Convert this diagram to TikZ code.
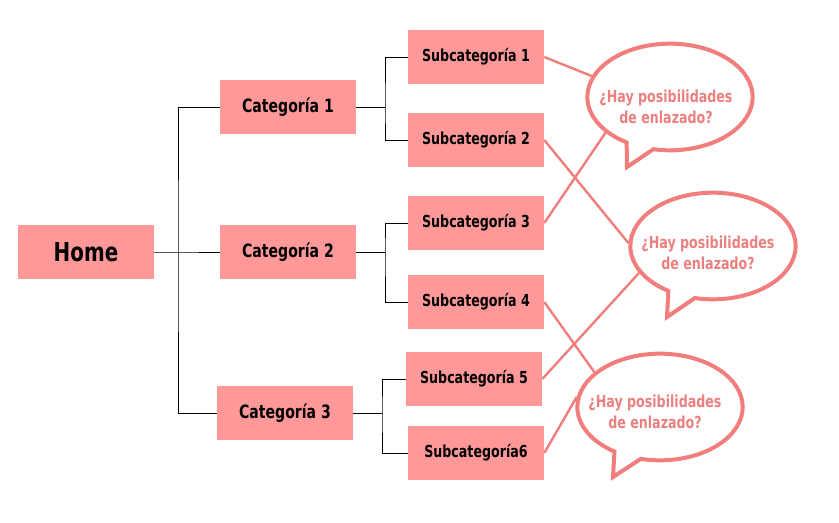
\documentclass[tikz,border=0pt]{standalone}
\usepackage{fontspec}
\setmainfont{DejaVu Sans Condensed}[FakeStretch=0.85]
\usetikzlibrary{shapes.callouts}
\definecolor{boxpink}{HTML}{FF9999}
\definecolor{linepink}{HTML}{F27D7D}
\definecolor{askpink}{HTML}{EC8080}

\begin{document}
\begin{tikzpicture}[x=0.75pt,y=-0.75pt,
	catbox/.style={fill=boxpink, minimum width=102pt, minimum height=40pt, inner sep=0pt, font=\bfseries\fontsize{12.4}{14}\selectfont},
	ask/.style={ellipse callout, draw=linepink, line width=3pt, fill=white, minimum width=124pt, minimum height=80pt, callout pointer arc=20},
	asktext/.style={text=askpink, align=center, inner sep=0pt, font=\bfseries\fontsize{12.4}{16}\selectfont},
	tree/.style={draw=black, line width=0.75pt},
	link/.style={draw=linepink, line width=1.8pt}]
	\useasboundingbox (0,0) rectangle (839,522);
	% tree of pages
	\node[catbox, font=\bfseries\fontsize{19.5}{21}\selectfont] (home) at (86,252) {Home};
	\node[catbox, font=\bfseries\fontsize{13.8}{16}\selectfont] (cat1) at (288,107) {Categoría 1};
	\node[catbox, font=\bfseries\fontsize{13.8}{16}\selectfont] (cat2) at (288,252) {Categoría 2};
	\node[catbox, font=\bfseries\fontsize{13.8}{16}\selectfont] (cat3) at (285,413) {Categoría 3};
	\node[catbox] (sub1) at (476,57) {Subcategoría 1};
	\node[catbox] (sub2) at (476,140) {Subcategoría 2};
	\node[catbox] (sub3) at (476,223) {Subcategoría 3};
	\node[catbox] (sub4) at (476,302) {Subcategoría 4};
	\node[catbox] (sub5) at (474,379) {Subcategoría 5};
	\node[catbox] (sub6) at (476,453) {Subcategoría6};
	\coordinate (trunk) at (178,252);
	\coordinate (br1) at (385,107);
	\coordinate (br2) at (385,252);
	\coordinate (br3) at (382,413);
	\draw[tree] (home.east) -- (trunk) -- (cat2.west);
	\draw[tree] (cat1.west) -| (trunk) |- (cat3.west);
	\draw[tree] (cat1.east) -- (br1);
	\draw[tree] (sub1.west) -| (br1) |- (sub2.west);
	\draw[tree] (cat2.east) -- (br2);
	\draw[tree] (sub3.west) -| (br2) |- (sub4.west);
	\draw[tree] (cat3.east) -- (br3);
	\draw[tree] (sub5.west) -| (br3) |- (sub6.west);
	% speech bubbles
	\node[ask, callout absolute pointer={(627,167)}] (q1) at (670,97) {};
	\node[ask, callout absolute pointer={(667,317)}] (q2) at (713,246) {};
	\node[ask, callout absolute pointer={(613,477)}] (q3) at (660,407) {};
	\node[asktext] (t1) at (666,107) {¿Hay posibilidades\\de enlazado?};
	\node[asktext] (t2) at (708,253) {¿Hay posibilidades\\de enlazado?};
	\node[asktext] (t3) at (655,412) {¿Hay posibilidades\\de enlazado?};
	% links
	\draw[link] (sub1.east) -- (q1.165);
	\draw[link] (sub3.east) -- (q1.209);
	\draw[link] (sub2.east) -- (q2.178);
	\draw[link] (sub5.east) -- (q2.200);
	\draw[link] (sub4.east) -- (q3.152);
	\draw[link] (sub6.east) -- (q3.173);
\end{tikzpicture}
\end{document}
